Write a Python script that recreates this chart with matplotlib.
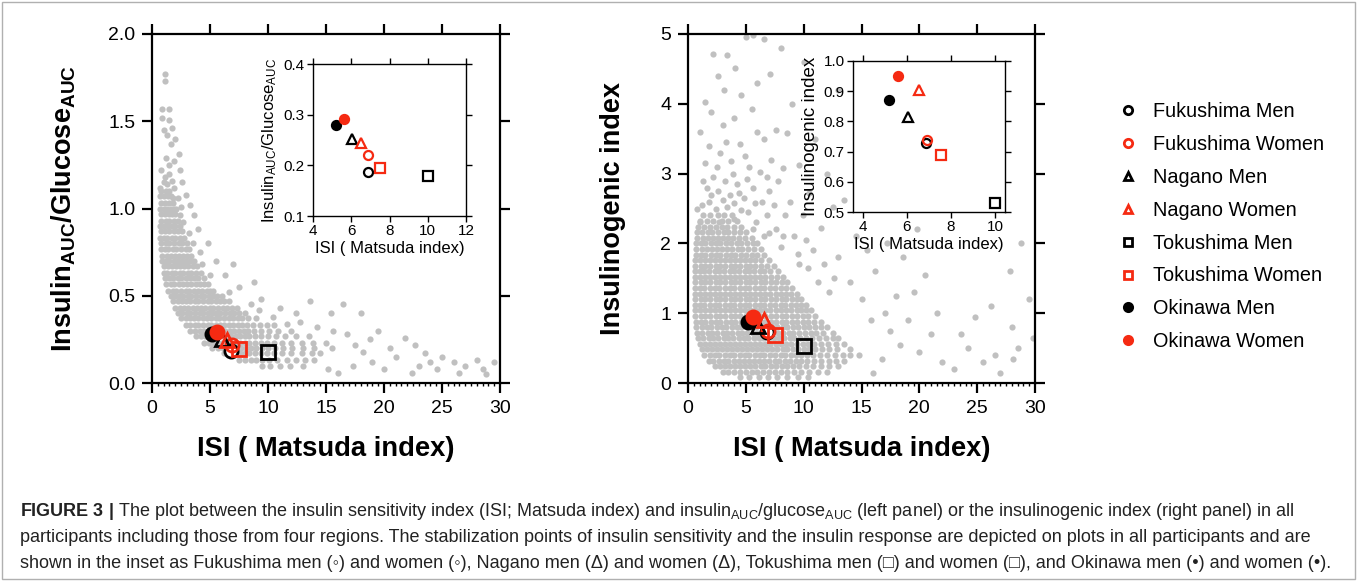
import numpy as np
import matplotlib
matplotlib.use("Agg")
import matplotlib.pyplot as plt
from matplotlib.ticker import MultipleLocator
from matplotlib.lines import Line2D
from matplotlib.patches import Rectangle

plt.rcParams['font.family'] = ['Liberation Sans', 'DejaVu Sans']
plt.rcParams['mathtext.fontset'] = 'custom'
plt.rcParams['mathtext.rm'] = 'Liberation Sans'
plt.rcParams['mathtext.bf'] = 'Liberation Sans:bold'
plt.rcParams['mathtext.it'] = 'Liberation Sans:italic'

RED = '#f52a12'
GREY = '#c0c0c0'

# group stabilization points
groups = ["Fukushima Men", "Fukushima Women", "Nagano Men", "Nagano Women",
          "Tokushima Men", "Tokushima Women", "Okinawa Men", "Okinawa Women"]
group_isi_left = [6.85, 6.9, 6.05, 6.5, 10.0, 7.5, 5.2, 5.6]
group_ratio = [0.186, 0.22, 0.252, 0.245, 0.178, 0.194, 0.28, 0.292]
group_isi_right = [6.85, 6.9, 6.05, 6.55, 10.0, 7.55, 5.2, 5.6]
group_insulinogenic = [0.73, 0.74, 0.815, 0.905, 0.53, 0.69, 0.87, 0.95]
markers = ['o', 'o', '^', '^', 's', 's', 'o', 'o']
colors = ['black', RED, 'black', RED, 'black', RED, 'black', RED]
filled = [False, False, False, False, False, False, True, True]

# all participants, left panel: scattered points (ISI, insulinAUC/glucoseAUC)
left_cloud = [
    (1.1, 1.77), (1.1, 1.73), (0.9, 1.57), (0.9, 1.52), (1.5, 1.57), (1.5, 1.51), (1.0, 1.45), (1.7, 1.46),
    (1.3, 1.42), (1.6, 1.37), (1.2, 1.29), (1.45, 1.25), (0.8, 1.22), (2.0, 1.40), (2.3, 1.31), (1.9, 1.27),
    (1.1, 1.18), (1.7, 1.16), (2.4, 1.22), (0.7, 1.12), (1.3, 1.14), (1.9, 1.12), (2.6, 1.15), (1.0, 1.15),
    (1.5, 1.20), (2.2, 1.06), (2.9, 1.08), (2.1, 1.00), (2.4, 0.96), (1.8, 1.06), (2.5, 1.01), (3.3, 1.02),
    (2.7, 0.92), (3.6, 0.96), (3.2, 0.86), (3.5, 0.80), (4.1, 0.75), (4.3, 0.68), (5.0, 0.62),
    (8.5, 0.45), (9.2, 0.42), (10.4, 0.38), (11.6, 0.34), (12.8, 0.35), (14.2, 0.32), (15.6, 0.30),
    (9.4, 0.48), (11.0, 0.43), (12.4, 0.40), (13.6, 0.47), (15.4, 0.40), (16.5, 0.45), (7.5, 0.55),
    (8.8, 0.58), (6.3, 0.62), (7.0, 0.68), (5.5, 0.70), (4.8, 0.80), (4.0, 0.88), (6.6, 0.52),
    (16.8, 0.28), (17.5, 0.22), (18.2, 0.18), (18.0, 0.40), (19.0, 0.12), (19.5, 0.30), (17.3, 0.10), (18.8, 0.25),
    (20.5, 0.20), (21.0, 0.15), (21.8, 0.26), (22.7, 0.22), (23.5, 0.17), (24.0, 0.12), (24.6, 0.08), (25.0, 0.15),
    (22.4, 0.06), (20.0, 0.08), (26.0, 0.12), (27.0, 0.10), (28.0, 0.13), (28.5, 0.08), (29.5, 0.12), (28.8, 0.05),
    (26.5, 0.06), (23.0, 0.10), (16.0, 0.06), (15.2, 0.08),
]

# left panel: dense core, one row per ratio level, listing ISI values
left_rows = [
    (1.10, [0.8, 1.2, 1.5]),
    (1.07, [0.7, 1.0, 1.4, 1.6]),
    (1.03, [0.8, 1.1, 1.5, 1.8]),
    (1.00, [0.7, 1.0, 1.3, 1.6, 1.9]),
    (0.97, [0.75, 1.1, 1.45, 1.7, 2.0]),
    (0.93, [0.8, 1.2, 1.5, 1.9, 2.2]),
    (0.90, [0.7, 1.0, 1.4, 1.7, 2.0, 2.4]),
    (0.87, [0.8, 1.1, 1.5, 1.9, 2.2, 2.6]),
    (0.83, [0.7, 1.0, 1.3, 1.7, 2.0, 2.4, 2.8]),
    (0.80, [0.8, 1.2, 1.5, 1.9, 2.3, 2.6, 3.0]),
    (0.77, [0.8, 1.1, 1.4, 1.8, 2.1, 2.5, 2.9, 3.2]),
    (0.73, [0.9, 1.3, 1.6, 2.0, 2.3, 2.7, 3.0, 3.4]),
    (0.70, [0.9, 1.2, 1.5, 1.9, 2.2, 2.6, 2.9, 3.3, 3.6]),
    (0.67, [1.0, 1.4, 1.7, 2.1, 2.4, 2.8, 3.1, 3.5, 3.9]),
    (0.63, [1.0, 1.3, 1.7, 2.0, 2.4, 2.7, 3.1, 3.4, 3.8, 4.2]),
    (0.60, [1.1, 1.5, 1.8, 2.2, 2.5, 2.9, 3.3, 3.6, 4.0, 4.5]),
    (0.57, [1.2, 1.6, 1.9, 2.3, 2.7, 3.0, 3.4, 3.8, 4.1, 4.5, 4.8]),
    (0.53, [1.4, 1.8, 2.1, 2.5, 2.9, 3.2, 3.6, 4.0, 4.3, 4.7, 5.0, 5.3]),
    (0.50, [1.6, 2.0, 2.3, 2.7, 3.1, 3.4, 3.8, 4.2, 4.5, 4.9, 5.3, 5.6, 6.0]),
    (0.47, [1.8, 2.2, 2.6, 2.9, 3.3, 3.7, 4.0, 4.4, 4.8, 5.1, 5.5, 5.9, 6.2, 6.6]),
    (0.43, [2.0, 2.4, 2.8, 3.1, 3.5, 3.9, 4.2, 4.6, 5.0, 5.3, 5.7, 6.1, 6.5, 6.9, 7.3]),
    (0.40, [2.2, 2.6, 3.0, 3.3, 3.7, 4.1, 4.4, 4.8, 5.2, 5.5, 5.9, 6.3, 6.7, 7.1, 7.5, 8.0]),
    (0.37, [2.5, 2.9, 3.3, 3.6, 4.0, 4.4, 4.7, 5.1, 5.5, 5.8, 6.2, 6.6, 7.0, 7.4, 7.8, 8.3, 9.0]),
    (0.33, [2.9, 3.3, 3.7, 4.0, 4.4, 4.8, 5.1, 5.5, 5.9, 6.2, 6.6, 7.0, 7.4, 7.8, 8.2, 8.7, 9.3, 9.9, 10.5]),
    (0.30, [3.3, 3.7, 4.1, 4.5, 4.8, 5.2, 5.6, 6.0, 6.3, 6.7, 7.1, 7.5, 7.9, 8.3, 8.8, 9.4, 10.1, 10.9, 12.0]),
    (0.27, [3.8, 4.2, 4.6, 5.0, 5.3, 5.7, 6.1, 6.5, 6.8, 7.2, 7.6, 8.0, 8.4, 8.9, 9.4, 10.0, 10.7, 11.5, 12.4, 13.5]),
    (0.23, [4.5, 4.9, 5.3, 5.7, 6.0, 6.4, 6.8, 7.2, 7.6, 8.0, 8.4, 8.9, 9.4, 9.9, 10.5, 11.2, 12.0, 12.9, 13.9, 15.0]),
    (0.20, [5.2, 5.7, 6.1, 6.5, 6.9, 7.3, 7.7, 8.1, 8.5, 9.0, 9.5, 10.0, 10.6, 11.3, 12.1, 13.0, 14.0, 15.5]),
    (0.17, [6.2, 6.7, 7.2, 7.6, 8.0, 8.4, 8.9, 9.4, 9.9, 10.5, 11.2, 12.0, 12.9, 13.8, 14.5]),
    (0.13, [7.5, 8.0, 8.5, 9.0, 9.5, 10.1, 10.8, 11.6, 12.4, 13.2, 14.0]),
    (0.10, [9.5, 10.2, 11.0, 11.9, 13.0]),
]

# all participants, right panel: scattered points (ISI, insulinogenic index)
right_cloud = [
    (2.2, 4.72), (3.4, 4.70), (5.0, 4.95), (5.6, 4.98), (6.6, 4.93), (4.1, 4.52), (2.6, 4.40), (3.1, 4.20),
    (1.5, 4.02), (4.6, 4.12), (6.0, 4.30), (7.1, 4.42), (2.0, 3.88), (3.0, 3.70), (4.0, 3.80), (5.5, 3.92),
    (7.6, 3.62), (8.6, 3.58), (6.6, 3.50), (1.8, 3.40), (2.8, 3.30), (3.7, 3.18), (4.5, 3.42), (5.3, 3.10),
    (6.2, 3.02), (7.2, 3.20), (8.2, 3.08), (9.6, 3.12), (10.5, 2.72), (11.5, 2.22), (12.5, 2.52), (13.5, 2.62),
    (9.0, 4.0), (10.0, 4.6), (11.0, 3.5), (12.0, 3.0), (13.0, 4.2), (8.0, 4.8), (1.0, 3.6), (1.3, 2.9), (0.8, 2.5),
    (1.6, 2.8), (2.2, 2.95), (2.6, 2.75), (3.2, 2.9), (3.6, 2.7), (4.2, 2.85), (4.8, 2.65), (5.6, 2.8),
    (6.4, 2.6), (7.0, 2.75), (1.2, 2.55), (1.8, 2.6), (2.4, 2.5), (3.0, 2.62), (3.4, 2.52), (4.0, 2.58),
    (4.6, 2.48), (5.2, 2.45), (5.9, 2.3), (6.8, 2.4), (7.6, 2.2), (8.4, 2.4), (9.2, 2.1), (2.5, 3.1),
    (3.9, 3.0), (4.9, 3.25), (6.0, 3.6), (7.8, 2.9), (8.8, 2.6), (9.9, 2.4), (10.8, 1.9), (11.8, 1.7),
    (12.6, 1.5), (7.0, 2.15), (8.0, 1.95), (9.5, 1.85), (10.4, 1.65), (11.2, 1.45), (12.2, 1.3),
    (1.5, 3.15), (2.0, 2.7), (3.3, 3.45), (4.4, 2.72), (5.1, 2.92), (5.8, 2.58), (6.8, 2.95), (7.4, 2.55),
    (1.0, 2.3), (2.7, 2.3), (4.0, 2.35), (5.6, 2.2), (6.6, 2.1), (8.2, 2.1), (9.6, 1.7), (10.2, 2.05),
    (14.0, 1.45), (15.0, 1.2), (16.2, 1.6), (17.0, 1.0), (15.8, 0.9), (17.5, 0.75), (18.3, 0.55), (16.8, 0.35),
    (19.0, 0.9), (20.0, 0.45), (21.0, 0.7), (19.5, 1.3), (18.0, 1.25), (17.2, 2.0), (20.5, 1.55), (22.0, 0.3),
    (21.5, 1.0), (13.0, 1.8), (14.5, 2.1), (15.5, 1.9), (18.6, 1.8), (19.8, 2.2), (14.8, 0.4), (16.0, 0.15),
    (23.0, 0.2), (23.6, 0.7), (24.2, 0.5), (25.5, 0.3), (26.5, 0.4), (27.0, 0.15), (28.0, 0.8), (28.5, 0.5),
    (28.1, 0.35), (29.8, 0.65), (24.8, 0.95), (26.2, 1.1), (27.8, 1.6), (28.8, 2.0), (29.5, 1.2),
]

# right panel: dense core, one row per insulinogenic level, listing ISI values
right_rows = [
    (2.40, [1.3, 1.9, 2.6, 3.1, 3.8]),
    (2.32, [1.0, 1.6, 2.2, 2.9, 3.5, 4.2]),
    (2.24, [0.9, 1.4, 1.9, 2.4, 2.9, 3.4, 4.0, 4.6]),
    (2.16, [0.8, 1.2, 1.7, 2.1, 2.6, 3.1, 3.5, 4.0, 4.5, 5.0]),
    (2.08, [0.8, 1.3, 1.7, 2.2, 2.6, 3.0, 3.5, 3.9, 4.4, 4.9, 5.5]),
    (2.00, [0.7, 1.1, 1.5, 2.0, 2.4, 2.8, 3.3, 3.7, 4.2, 4.6, 5.1, 5.6, 6.0]),
    (1.92, [0.7, 1.2, 1.6, 2.1, 2.5, 2.9, 3.4, 3.8, 4.3, 4.7, 5.2, 5.7, 6.3]),
    (1.84, [0.7, 1.1, 1.5, 2.0, 2.4, 2.8, 3.3, 3.7, 4.1, 4.6, 5.0, 5.5, 6.0, 6.6]),
    (1.76, [0.6, 1.0, 1.5, 1.9, 2.3, 2.8, 3.2, 3.6, 4.1, 4.5, 4.9, 5.4, 5.8, 6.3, 7.0]),
    (1.68, [0.6, 1.1, 1.5, 1.9, 2.4, 2.8, 3.2, 3.7, 4.1, 4.5, 5.0, 5.4, 5.8, 6.3, 6.8, 7.4]),
    (1.60, [0.6, 1.0, 1.4, 1.8, 2.3, 2.7, 3.1, 3.6, 4.0, 4.4, 4.9, 5.3, 5.7, 6.2, 6.6, 7.1, 7.8]),
    (1.52, [0.6, 1.0, 1.5, 1.9, 2.3, 2.8, 3.2, 3.6, 4.1, 4.5, 4.9, 5.4, 5.8, 6.2, 6.7, 7.2, 7.7, 8.2]),
    (1.44, [0.6, 1.1, 1.5, 1.9, 2.4, 2.8, 3.2, 3.7, 4.1, 4.5, 5.0, 5.4, 5.8, 6.3, 6.7, 7.2, 7.6, 8.1, 8.6]),
    (1.36, [0.6, 1.0, 1.4, 1.9, 2.3, 2.7, 3.2, 3.6, 4.0, 4.5, 4.9, 5.3, 5.8, 6.2, 6.6, 7.1, 7.5, 8.0, 8.5, 9.0]),
    (1.28, [0.6, 1.0, 1.5, 1.9, 2.3, 2.8, 3.2, 3.6, 4.1, 4.5, 4.9, 5.4, 5.8, 6.2, 6.7, 7.1, 7.6, 8.0, 8.5,
            8.9, 9.4]),
    (1.20, [0.6, 1.1, 1.5, 1.9, 2.4, 2.8, 3.2, 3.7, 4.1, 4.5, 5.0, 5.4, 5.8, 6.3, 6.7, 7.2, 7.6, 8.1, 8.5,
            9.0, 9.4, 9.8]),
    (1.12, [0.6, 1.0, 1.4, 1.9, 2.3, 2.7, 3.2, 3.6, 4.0, 4.5, 4.9, 5.3, 5.8, 6.2, 6.6, 7.1, 7.5, 8.0, 8.4,
            8.9, 9.3, 9.8, 10.2]),
    (1.04, [0.6, 1.0, 1.5, 1.9, 2.3, 2.8, 3.2, 3.6, 4.1, 4.5, 4.9, 5.4, 5.8, 6.2, 6.7, 7.1, 7.6, 8.0, 8.5,
            8.9, 9.4, 9.8, 10.2, 10.6]),
    (0.96, [0.6, 1.1, 1.5, 1.9, 2.4, 2.8, 3.2, 3.7, 4.1, 4.5, 5.0, 5.4, 5.8, 6.3, 6.7, 7.2, 7.6, 8.1, 8.5,
            9.0, 9.4, 9.9, 10.4, 11.0]),
    (0.88, [0.7, 1.1, 1.5, 2.0, 2.4, 2.8, 3.3, 3.7, 4.1, 4.6, 5.0, 5.4, 5.9, 6.3, 6.7, 7.2, 7.6, 8.1, 8.5,
            9.0, 9.4, 9.9, 10.4, 10.9, 11.5]),
    (0.80, [0.7, 1.2, 1.6, 2.0, 2.5, 2.9, 3.3, 3.8, 4.2, 4.6, 5.1, 5.5, 5.9, 6.4, 6.8, 7.3, 7.7, 8.2, 8.6,
            9.1, 9.5, 10.0, 10.5, 11.0, 11.5, 12.0]),
    (0.72, [0.8, 1.2, 1.7, 2.1, 2.5, 3.0, 3.4, 3.8, 4.3, 4.7, 5.1, 5.6, 6.0, 6.4, 6.9, 7.3, 7.8, 8.2, 8.7,
            9.1, 9.6, 10.1, 10.6, 11.1, 11.7, 12.5]),
    (0.64, [0.9, 1.3, 1.8, 2.2, 2.6, 3.1, 3.5, 3.9, 4.4, 4.8, 5.2, 5.7, 6.1, 6.5, 7.0, 7.4, 7.9, 8.3, 8.8,
            9.2, 9.7, 10.2, 10.7, 11.3, 11.9, 12.5, 13.0]),
    (0.56, [1.0, 1.5, 1.9, 2.3, 2.8, 3.2, 3.6, 4.1, 4.5, 4.9, 5.4, 5.8, 6.2, 6.7, 7.1, 7.6, 8.0, 8.5, 8.9,
            9.4, 9.9, 10.4, 10.9, 11.5, 12.1, 12.8, 13.5]),
    (0.48, [1.2, 1.6, 2.1, 2.5, 2.9, 3.4, 3.8, 4.2, 4.7, 5.1, 5.5, 6.0, 6.4, 6.8, 7.3, 7.7, 8.2, 8.6, 9.1,
            9.5, 10.0, 10.5, 11.0, 11.6, 12.2, 12.9, 14.0]),
    (0.40, [1.4, 1.9, 2.3, 2.7, 3.2, 3.6, 4.0, 4.5, 4.9, 5.3, 5.8, 6.2, 6.6, 7.1, 7.5, 8.0, 8.4, 8.9, 9.3,
            9.8, 10.3, 10.8, 11.4, 12.0, 12.7, 13.4, 14.0]),
    (0.32, [1.8, 2.2, 2.7, 3.1, 3.5, 4.0, 4.4, 4.8, 5.3, 5.7, 6.1, 6.6, 7.0, 7.5, 7.9, 8.4, 8.8, 9.3, 9.8,
            10.3, 10.9, 11.5, 12.2, 12.8, 13.5]),
    (0.24, [2.3, 2.8, 3.2, 3.6, 4.1, 4.5, 4.9, 5.4, 5.8, 6.3, 6.7, 7.2, 7.6, 8.1, 8.6, 9.1, 9.6, 10.2, 10.8,
            11.5, 12.2, 13.0]),
    (0.16, [3.0, 3.5, 4.0, 4.5, 5.0, 5.5, 6.0, 6.5, 7.0, 7.5, 8.0, 8.6, 9.2, 9.8, 10.5, 11.2, 12.0]),
    (0.08, [4.5, 5.3, 6.1, 6.9, 7.7, 8.6, 9.5, 10.4]),
]

caption_lines = [
    r"$\mathbf{FIGURE\ 3\ |}$ The plot between the insulin sensitivity index (ISI; Matsuda index) and "
    r"insulin$_{\mathrm{AUC}}$/glucose$_{\mathrm{AUC}}$ (left panel) or the insulinogenic index (right panel) in all",
    "participants including those from four regions. The stabilization points of insulin sensitivity and the "
    "insulin response are depicted on plots in all participants and are",
    "shown in the inset as Fukushima men (\u25e6) and women (\u25e6), Nagano men (\u0394) and women (\u0394), "
    "Tokushima men (\u25a1) and women (\u25a1), and Okinawa men (\u2022) and women (\u2022).",
]

W, H = 1357, 581
fig = plt.figure(figsize=(W / 100, H / 100), dpi=100)


def px_axes(x0, y0, x1, y1):
    return fig.add_axes([x0 / W, 1 - y1 / H, (x1 - x0) / W, (y1 - y0) / H])


def cloud_xy(points, rows):
    xs = [p[0] for p in points]
    ys = [p[1] for p in points]
    for y, row in rows:
        xs += row
        ys += [y] * len(row)
    return np.array(xs), np.array(ys)


def style_main(ax):
    for s in ax.spines.values():
        s.set_linewidth(1.6)
    ax.tick_params(which='major', direction='out', length=7, width=1.6, labelsize=14,
                   top=True, right=True, pad=5)
    ax.tick_params(which='minor', direction='out', length=2.5, width=1.0, top=False, right=False)
    ax.xaxis.set_minor_locator(MultipleLocator(0.5))
    ax.yaxis.set_minor_locator(plt.NullLocator())


def style_inset(ax):
    for s in ax.spines.values():
        s.set_linewidth(1.0)
    ax.tick_params(direction='out', length=4, width=1.0, labelsize=11, top=True, right=True, pad=2)


def plot_groups(ax, xs, ys, ms, mew):
    for x, y, m, c, f in zip(xs, ys, markers, colors, filled):
        face = c if f else 'none'
        if not f and c == 'black' and m == 'o' and ms > 8:
            face = 'white'
        ax.plot([x], [y], linestyle='none', marker=m, markersize=ms, markerfacecolor=face,
                markeredgecolor=c, markeredgewidth=mew, zorder=3)


# ---- left panel
axl = px_axes(152, 34, 500, 383)
lx, ly = cloud_xy(left_cloud, left_rows)
axl.scatter(lx, ly, s=20, color=GREY, linewidths=0, zorder=1)
plot_groups(axl, group_isi_left, group_ratio, 9.5, 2.0)
axl.set_xlim(0, 30)
axl.set_ylim(0, 2.0)
axl.set_xticks(np.arange(0, 31, 5))
axl.set_yticks([0.0, 0.5, 1.0, 1.5, 2.0])
axl.set_yticklabels(['0.0', '0.5', '1.0', '1.5', '2.0'])
style_main(axl)
axl.set_xlabel("ISI ( Matsuda index)", fontsize=19.7, fontweight='bold', labelpad=14)
axl.set_ylabel(r"$\mathbf{Insulin_{AUC}/Glucose_{AUC}}$", fontsize=19.5, labelpad=22)

insl = px_axes(313, 64, 466, 216)
plot_groups(insl, group_isi_left, group_ratio, 6.5, 1.6)
insl.set_xlim(4, 12)
insl.set_ylim(0.1, 0.4)
insl.set_xticks([4, 6, 8, 10, 12])
insl.set_yticks([0.1, 0.2, 0.3, 0.4])
style_inset(insl)
insl.set_xlabel("ISI ( Matsuda index)", fontsize=12, labelpad=2)
insl.set_ylabel(r"Insulin$_{\mathrm{AUC}}$/Glucose$_{\mathrm{AUC}}$", fontsize=12, labelpad=3)

# ---- right panel
axr = px_axes(688, 34, 1035, 383)
rx, ry = cloud_xy(right_cloud, right_rows)
axr.scatter(rx, ry, s=20, color=GREY, linewidths=0, zorder=1)
plot_groups(axr, group_isi_right, group_insulinogenic, 9.5, 2.0)
axr.set_xlim(0, 30)
axr.set_ylim(0, 5)
axr.set_xticks(np.arange(0, 31, 5))
axr.set_yticks(np.arange(0, 6, 1))
style_main(axr)
axr.set_xlabel("ISI ( Matsuda index)", fontsize=19.7, fontweight='bold', labelpad=14)
axr.set_ylabel("Insulinogenic index", fontsize=19.5, fontweight='bold', labelpad=25)

insr = px_axes(853, 61, 1005, 212)
plot_groups(insr, group_isi_right, group_insulinogenic, 6.5, 1.6)
insr.set_xlim(3.55, 10.45)
insr.set_ylim(0.5, 1.0)
insr.set_xticks([4, 6, 8, 10])
insr.set_yticks([0.5, 0.6, 0.7, 0.8, 0.9, 1.0])
style_inset(insr)
insr.set_xlabel("ISI ( Matsuda index)", fontsize=12, labelpad=2)
insr.set_ylabel("Insulinogenic index", fontsize=13.5, labelpad=3)

# ---- legend
handles = []
for g, m, c, f in zip(groups, markers, colors, filled):
    handles.append(Line2D([], [], linestyle='none', marker=m, markersize=6,
                          markerfacecolor=c if f else 'none', markeredgecolor=c,
                          markeredgewidth=2.0, label=g))
fig.legend(handles=handles, loc='upper left', bbox_to_anchor=(1110 / W, 1 - 94 / H),
           frameon=False, fontsize=14.3, labelspacing=0.70, handletextpad=0.75,
           handlelength=1.0, borderaxespad=0)

# ---- caption
for i, line in enumerate(caption_lines):
    fig.text(20 / W, 1 - (511 + 26 * i) / H, line, fontsize=13.0, ha='left', va='center',
             color='#222222')

fig.patches.append(Rectangle((2 / W, 2 / H), 1 - 4 / W, 1 - 4 / H, transform=fig.transFigure,
                             fill=False, edgecolor='#b0b0b0', linewidth=1.0))

fig.savefig("out.png", dpi=100)
